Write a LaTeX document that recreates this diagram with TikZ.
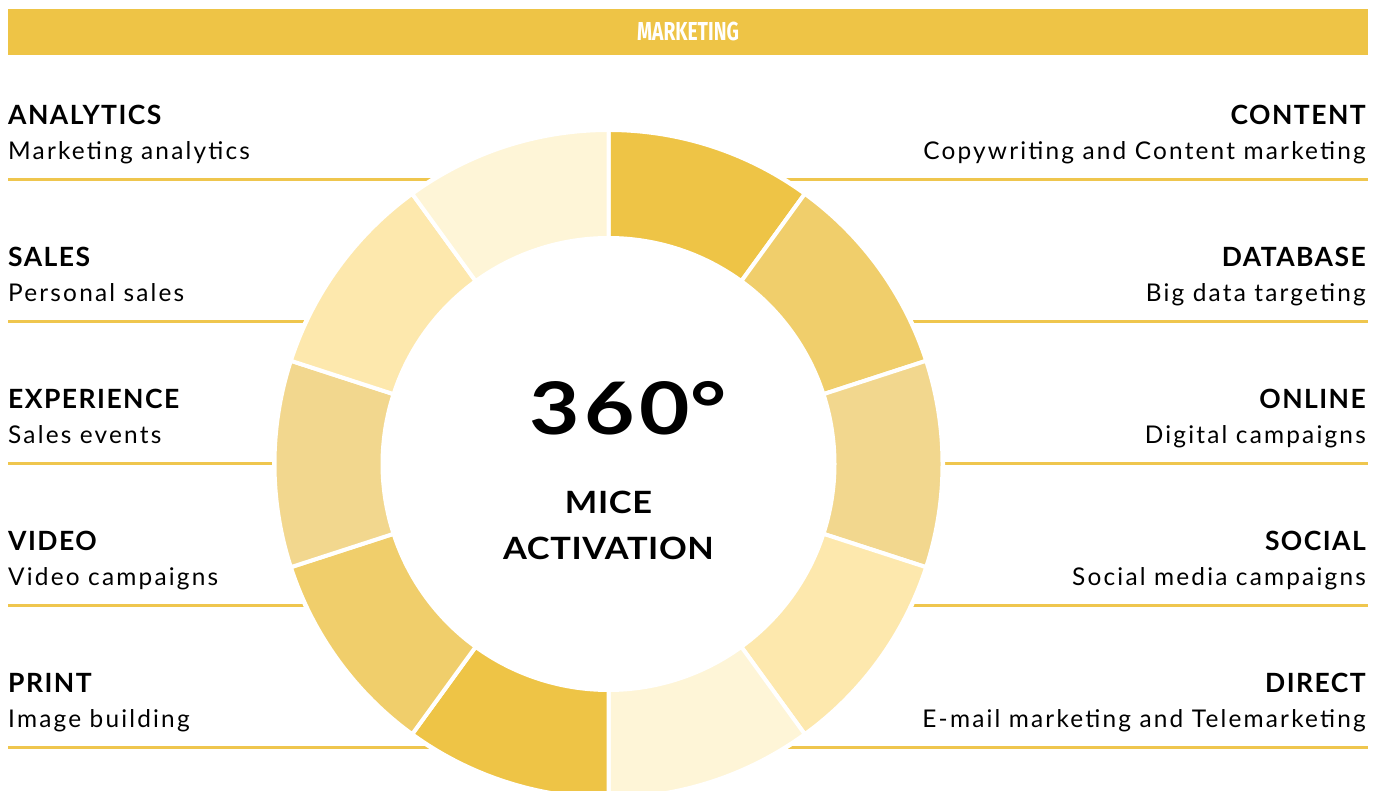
\documentclass[tikz,border=0pt]{standalone}
\usepackage{fontspec}
\setmainfont{Lato}
\newfontfamily\bannerfont[FakeStretch=0.74]{Fira Sans}
\newfontfamily\subfont[LetterSpace=9]{Lato}
\newfontfamily\headfont[LetterSpace=5.5]{Lato}
\newfontfamily\midfont[FakeStretch=1.12, LetterSpace=2]{Lato}
\newfontfamily\numfont[FakeStretch=1.2, LetterSpace=6]{Lato}
\usetikzlibrary{positioning, calc}
\definecolor{MK_Gold}{HTML}{EEC446}
\definecolor{MK_Honey}{HTML}{F0CE6B}
\definecolor{MK_Sand}{HTML}{F2D78E}
\definecolor{MK_Cream}{HTML}{FDE8AD}
\definecolor{MK_Ivory}{HTML}{FEF5D7}
\definecolor{MK_Rule}{HTML}{EFC64E}

\begin{document}
\begin{tikzpicture}[x=1pt, y=1pt,
  title/.style={inner sep=0pt, font=\headfont\fontsize{26.5}{26.5}\selectfont\bfseries},
  sub/.style={inner sep=0pt, font=\subfont\fontsize{24.4}{24.4}\selectfont},
  centre/.style={inner sep=0pt, anchor=base, font=\midfont\fontsize{30.7}{30.7}\selectfont\bfseries}]
\useasboundingbox (0,0) rectangle (1382,791);
\clip (0,0) rectangle (1382,791);
% Banner
\fill[MK_Gold] (8,736) rectangle (1368,782);
\node[text=white, inner sep=0pt, font=\bannerfont\fontsize{26}{26}\selectfont\bfseries] (banner) at (688,759) {MARKETING};
% Rules under each row
\foreach \i in {0,...,4} {
  \draw[MK_Rule, line width=3] (8,611-142*\i) -- (1368,611-142*\i);
}
% Ring: 10 segments of 36 degrees, clockwise from the top
\coordinate (c) at (608.5,327);
\fill[white] (c) circle (336.5);
\foreach \col [count=\i from 0] in {MK_Gold,MK_Honey,MK_Sand,MK_Cream,MK_Ivory,MK_Gold,MK_Honey,MK_Sand,MK_Cream,MK_Ivory} {
  \pgfmathsetmacro{\a}{90-36*\i}
  \pgfmathsetmacro{\b}{\a-36}
  \filldraw[fill=\col, draw=white, line width=4] ([shift={(\a:334)}]c) arc[start angle=\a, end angle=\b, radius=334] -- ([shift={(\b:226)}]c) arc[start angle=\b, end angle=\a, radius=226] -- cycle;
}
% Centre text
\node[inner sep=0pt, anchor=base, font=\numfont\fontsize{72.5}{72.5}\selectfont\bfseries] (deg) at (610,356) {360\rlap{°}};
\node[centre] (mice) at (608.5,277) {MICE};
\node[centre] (act) at (608.5,231) {ACTIVATION};
% Left column
\foreach \t/\s [count=\i from 0] in {ANALYTICS/Marketing analytics, SALES/Personal sales, EXPERIENCE/Sales events, VIDEO/Video campaigns, PRINT/Image building} {
  \node[title, anchor=base west] (lt\i) at (8,666-142*\i) {\t};
  \node[sub, anchor=base west] (ls\i) at (8,631-142*\i) {\s};
}
% Right column
\foreach \t/\s [count=\i from 0] in {CONTENT/Copywriting and Content marketing, DATABASE/Big data targeting, ONLINE/Digital campaigns, SOCIAL/Social media campaigns, DIRECT/E-mail marketing and Telemarketing} {
  \node[title, anchor=base east] (rt\i) at (1366,666-142*\i) {\t};
  \node[sub, anchor=base east] (rs\i) at (1366,631-142*\i) {\s};
}
\end{tikzpicture}
\end{document}
